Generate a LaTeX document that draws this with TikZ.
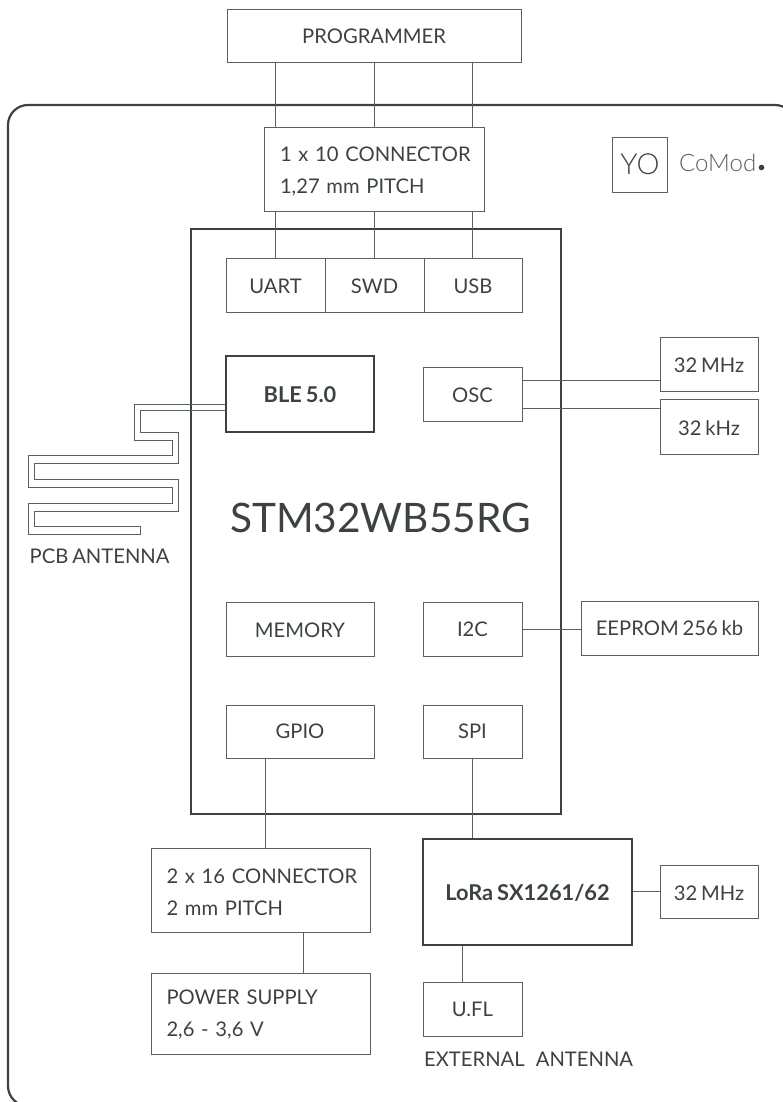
\documentclass[tikz,border=0pt]{standalone}
\usepackage{fontspec}
\setmainfont{Lato}[WordSpace=0.75]
\newfontfamily\lightfont{Lato Light}
\definecolor{ink}{HTML}{3C4242}
\definecolor{thin}{HTML}{5A5F5F}
\newcommand{\tl}{\rule{0pt}{20pt}}
\tikzset{
  x=1pt,y=-1pt,
  box/.style={draw=thin,line width=0.9pt,inner sep=0pt,text=ink,text height=17pt,text depth=0pt,font=\fontsize{20.2}{32}\selectfont},
  hi/.style={text height=14.5pt},
  heavy/.style={box,draw=ink,line width=2pt,font=\fontsize{21.8}{32}\selectfont\bfseries},
  two/.style={draw=thin,line width=0.9pt,inner sep=0pt,text=ink,font=\fontsize{20.2}{32}\selectfont,align=left,text width=188pt},
  wire/.style={draw=thin,line width=0.9pt},
  label/.style={inner sep=0pt,text=ink,font=\fontsize{20.2}{24}\selectfont},
}
\begin{document}
\begin{tikzpicture}
\useasboundingbox (0,0) rectangle (783,1102);
\clip (0,0) rectangle (783,1102);
\draw[ink,line width=2.2pt,rounded corners=20pt] (8,105) rectangle (795,1106);
\node[draw=ink,line width=2.5pt,minimum width=370pt,minimum height=585pt] (chip) at (376,521.5) {};
\node[text=ink,inner sep=0pt,font=\fontsize{40.6}{48}\selectfont] (title) at (380.5,518) {STM32WB55RG};

\node[box,minimum width=294pt,minimum height=53pt] (prog) at (374,35.5) {PROGRAMMER};
\node[two,minimum width=220pt,minimum height=84pt] (conn) at (374,169) {\tl\mbox{1 x 10 CONNECTOR}\\\mbox{1,27 mm PITCH}};
\node[box,minimum width=99pt,minimum height=54pt] (uart) at (275.5,285) {UART};
\node[box,minimum width=99pt,minimum height=54pt] (swd) at (374.5,285) {SWD};
\node[box,minimum width=98pt,minimum height=54pt] (usb) at (473,285) {USB};
\node[heavy,minimum width=148pt,minimum height=76pt] (ble) at (300,394) {BLE 5.0};
\node[box,minimum width=99pt,minimum height=54pt] (osc) at (472.5,394) {OSC};
\node[box,minimum width=98pt,minimum height=54pt] (mhza) at (709,364) {32 MHz};
\node[box,minimum width=98pt,minimum height=55pt] (khz) at (709,426.5) {32 kHz};
\node[box,minimum width=148pt,minimum height=54pt] (mem) at (300,629) {MEMORY};
\node[box,hi,minimum width=99pt,minimum height=54pt] (i2c) at (472.5,629) {I2C};
\node[box,hi,minimum width=177pt,minimum height=54pt] (eeprom) at (669.5,628) {EEPROM 256 kb};
\node[box,hi,minimum width=148pt,minimum height=53pt] (gpio) at (300,731.5) {GPIO};
\node[box,hi,minimum width=99pt,minimum height=53pt] (spi) at (472.5,731.5) {SPI};
\node[two,minimum width=219pt,minimum height=84pt] (hdr) at (260.5,890) {\tl\mbox{2 x 16 CONNECTOR}\\\mbox{2 mm PITCH}};
\node[two,minimum width=219pt,minimum height=81pt] (pwr) at (260.5,1013.5) {\rule{0pt}{17pt}\mbox{POWER SUPPLY}\\\mbox{2,6 - 3,6 V}};
\node[heavy,minimum width=209pt,minimum height=106pt] (lora) at (527.5,892) {LoRa SX1261/62};
\node[box,minimum width=98pt,minimum height=53pt] (mhzb) at (709,891.5) {32 MHz};
\node[box,hi,minimum width=99pt,minimum height=54pt] (ufl) at (472.5,1009) {U.FL};
\node[label,anchor=west] (pcb) at (29.5,556) {PCB ANTENNA};
\node[label,anchor=west] (ext) at (424,1059) {EXTERNAL\ \ \,ANTENNA};

\node[draw=thin,line width=0.9pt,minimum width=55pt,minimum height=55pt,inner sep=0pt,text=ink,font=\lightfont\fontsize{29}{30}\selectfont] (yo) at (640,164.5) {YO};
\node[anchor=west,inner sep=0pt,text=thin,font=\lightfont\fontsize{24}{26}\selectfont] (comod) at (679,163) {CoMod};
\fill[ink] (761.5,167.5) circle (2.8pt);

\coordinate (oa) at (522,380);
\coordinate (ob) at (522,408);
\draw[wire] (prog.south -| uart) -- (conn.north -| uart);
\draw[wire] (prog.south -| swd) -- (conn.north -| swd);
\draw[wire] (prog.south -| ufl) -- (conn.north -| ufl);
\draw[wire] (conn.south -| uart) -- (uart.north);
\draw[wire] (conn.south -| swd) -- (swd.north);
\draw[wire] (conn.south -| ufl) -- (usb.north -| ufl);
\draw[wire] (oa) -- (mhza.west |- oa);
\draw[wire] (ob) -- (khz.west |- ob);
\draw[wire] (i2c.east) -- (eeprom.west |- i2c);
\coordinate (gx) at (265,0);
\coordinate (px) at (303,0);
\coordinate (ux) at (462,0);
\draw[wire] (gpio.south -| gx) -- (hdr.north -| gx);
\draw[wire] (spi.south) -- (lora.north -| spi);
\draw[wire] (hdr.south -| px) -- (pwr.north -| px);
\draw[wire] (lora.east |- mhzb) -- (mhzb.west);
\draw[wire] (lora.south -| ux) -- (ufl.north -| ux);

\coordinate (anta) at (226,404);
\coordinate (antb) at (226,410.5);
\draw[wire,line join=miter] (anta) -- (134.5,404) -- (134.5,440) -- (172,440) -- (172,455.5) -- (28.5,455.5) -- (28.5,487) -- (172,487) -- (172,503) -- (28.5,503) -- (28.5,534) -- (140,534) -- (140,526.5) -- (34.5,526.5) -- (34.5,511) -- (178,511) -- (178,479.5) -- (34.5,479.5) -- (34.5,463.5) -- (178,463.5) -- (178,432) -- (140.5,432) -- (140.5,410.5) -- (antb);
\end{tikzpicture}
\end{document}
